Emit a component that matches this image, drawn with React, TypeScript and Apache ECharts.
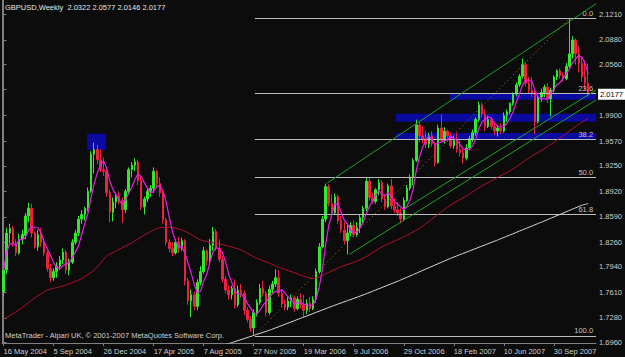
import React, { useEffect, useRef } from "react";
import * as echarts from "echarts";

const symbolName = "GBPUSD";
const periodName = "Weekly";
const copyright = "MetaTrader - Alpari UK, \u00a9 2001-2007 MetaQuotes Software Corp.";

const dateLabels = [
  "16 May 2004", "5 Sep 2004", "26 Dec 2004", "17 Apr 2005", "7 Aug 2005", "27 Nov 2005",
  "19 Mar 2006", "9 Jul 2006", "29 Oct 2006", "18 Feb 2007", "10 Jun 2007", "30 Sep 2007",
];
const labelEvery = 16;
const slotCount = 190;

const opens = [
  1.7620, 1.7900, 1.8380, 1.8440, 1.8250, 1.8120, 1.8300, 1.8350, 1.8600, 1.8700,
  1.8380, 1.8200, 1.8360, 1.8260, 1.8120, 1.7920, 1.7800, 1.7880, 1.7950, 1.8030,
  1.8130, 1.7900, 1.8000, 1.8260, 1.8380, 1.8560, 1.8620, 1.8700, 1.8920, 1.9400,
  1.9460, 1.9330, 1.9200, 1.9180, 1.8900, 1.8650, 1.8780, 1.8860, 1.8800, 1.8680,
  1.8920, 1.9200, 1.9260, 1.9300, 1.9060, 1.8720, 1.8820, 1.8920, 1.8960, 1.9180,
  1.9020, 1.8900, 1.8550, 1.8260, 1.8180, 1.8120, 1.8260, 1.8180, 1.8280, 1.7760,
  1.7500, 1.7580, 1.7430, 1.7740, 1.7880, 1.8150, 1.8020, 1.8220, 1.8400, 1.8180,
  1.8040, 1.7780, 1.7640, 1.7580, 1.7660, 1.7450, 1.7640, 1.7600, 1.7380, 1.7260,
  1.7150, 1.7350, 1.7480, 1.7660, 1.7600, 1.7350, 1.7650, 1.7720, 1.7800, 1.7600,
  1.7460, 1.7420, 1.7500, 1.7540, 1.7400, 1.7520, 1.7450, 1.7380, 1.7470, 1.7400,
  1.7520, 1.7880, 1.8200, 1.8560, 1.8980, 1.8760, 1.8640, 1.8850, 1.8540, 1.8420,
  1.8280, 1.8380, 1.8480, 1.8360, 1.8450, 1.8580, 1.8700, 1.9050, 1.8840, 1.8790,
  1.8940, 1.9030, 1.8820, 1.8720, 1.8990, 1.8730, 1.8680, 1.8640, 1.8560, 1.8800,
  1.8960, 1.9100, 1.9320, 1.9780, 1.9640, 1.9600, 1.9530, 1.9640, 1.9540, 1.9290,
  1.9740, 1.9580, 1.9700, 1.9640, 1.9510, 1.9590, 1.9460, 1.9420, 1.9350, 1.9480,
  1.9600, 1.9680, 1.9850, 2.0040, 1.9920, 1.9760, 1.9850, 1.9760, 1.9700, 1.9740,
  1.9700, 1.9900, 1.9950, 2.0060, 2.0180, 2.0300, 2.0410, 2.0560, 2.0320, 2.0230,
  2.0180, 1.9820, 2.0140, 2.0200, 2.0270, 2.0120, 2.0230, 2.0400, 2.0480, 2.0420,
  2.0380, 2.0540, 2.0700, 2.0880, 2.0700, 2.0580, 2.0400, 2.0322,
];
const highs = [
  1.7950, 1.8450, 1.8500, 1.8470, 1.8300, 1.8370, 1.8420, 1.8640, 1.8770, 1.8760,
  1.8400, 1.8420, 1.8440, 1.8320, 1.8150, 1.7980, 1.7920, 1.8000, 1.8080, 1.8180,
  1.8160, 1.8050, 1.8300, 1.8420, 1.8600, 1.8680, 1.8720, 1.8970, 1.9440, 1.9549,
  1.9520, 1.9460, 1.9360, 1.9230, 1.8940, 1.8840, 1.8900, 1.8920, 1.8840, 1.8950,
  1.9230, 1.9300, 1.9350, 1.9330, 1.9120, 1.8850, 1.8960, 1.9000, 1.9230, 1.9200,
  1.9100, 1.8930, 1.8580, 1.8300, 1.8260, 1.8300, 1.8330, 1.8320, 1.8300, 1.7800,
  1.7650, 1.7620, 1.7780, 1.7950, 1.8200, 1.8170, 1.8300, 1.8460, 1.8430, 1.8300,
  1.8080, 1.7820, 1.7700, 1.7700, 1.7780, 1.7700, 1.7720, 1.7640, 1.7420, 1.7300,
  1.7390, 1.7520, 1.7720, 1.7760, 1.7630, 1.7700, 1.7760, 1.7910, 1.7900, 1.7640,
  1.7520, 1.7560, 1.7580, 1.7570, 1.7560, 1.7600, 1.7580, 1.7520, 1.7550, 1.7560,
  1.7920, 1.8250, 1.8600, 1.9020, 1.9010, 1.8880, 1.8890, 1.8880, 1.8600, 1.8520,
  1.8500, 1.8520, 1.8540, 1.8520, 1.8620, 1.8730, 1.9100, 1.9090, 1.8900, 1.8960,
  1.9080, 1.9060, 1.8880, 1.9020, 1.9080, 1.8830, 1.8780, 1.8700, 1.8840, 1.9000,
  1.9140, 1.9350, 1.9848, 1.9830, 1.9760, 1.9700, 1.9680, 1.9700, 1.9560, 1.9780,
  1.9917, 1.9750, 1.9720, 1.9680, 1.9640, 1.9680, 1.9580, 1.9500, 1.9530, 1.9640,
  1.9720, 1.9880, 2.0080, 2.0070, 1.9980, 1.9900, 1.9880, 1.9820, 1.9780, 1.9800,
  1.9940, 1.9980, 2.0070, 2.0200, 2.0330, 2.0440, 2.0640, 2.0600, 2.0400, 2.0400,
  2.0220, 2.0170, 2.0250, 2.0300, 2.0320, 2.0260, 2.0420, 2.0500, 2.0510, 2.0460,
  2.0580, 2.1161, 2.0930, 2.0900, 2.0800, 2.0660, 2.0620, 2.0577,
];
const lows = [
  1.7560, 1.7850, 1.8250, 1.8200, 1.8080, 1.8100, 1.8230, 1.8300, 1.8520, 1.8320,
  1.8180, 1.8150, 1.8200, 1.8080, 1.7880, 1.7740, 1.7760, 1.7800, 1.7900, 1.7980,
  1.7850, 1.7830, 1.7980, 1.8230, 1.8340, 1.8500, 1.8540, 1.8660, 1.8900, 1.9150,
  1.9270, 1.9170, 1.9120, 1.8850, 1.8520, 1.8530, 1.8700, 1.8750, 1.8510, 1.8640,
  1.8880, 1.9100, 1.9180, 1.9000, 1.8680, 1.8620, 1.8780, 1.8850, 1.8900, 1.8960,
  1.8850, 1.8500, 1.8220, 1.8130, 1.8080, 1.8100, 1.8120, 1.8150, 1.7700, 1.7450,
  1.7290, 1.7380, 1.7380, 1.7700, 1.7850, 1.7960, 1.7990, 1.8150, 1.8150, 1.8000,
  1.7740, 1.7600, 1.7520, 1.7520, 1.7400, 1.7420, 1.7540, 1.7320, 1.7220, 1.7100,
  1.7046, 1.7300, 1.7450, 1.7560, 1.7300, 1.7320, 1.7600, 1.7680, 1.7550, 1.7420,
  1.7380, 1.7380, 1.7420, 1.7360, 1.7380, 1.7400, 1.7290, 1.7330, 1.7360, 1.7380,
  1.7480, 1.7850, 1.8180, 1.8520, 1.8720, 1.8580, 1.8620, 1.8500, 1.8380, 1.8240,
  1.8104, 1.8340, 1.8330, 1.8330, 1.8380, 1.8500, 1.8660, 1.8800, 1.8760, 1.8760,
  1.8870, 1.8780, 1.8680, 1.8700, 1.8690, 1.8640, 1.8600, 1.8505, 1.8540, 1.8780,
  1.8930, 1.9000, 1.9300, 1.9560, 1.9540, 1.9480, 1.9480, 1.9500, 1.9240, 1.9280,
  1.9550, 1.9540, 1.9560, 1.9480, 1.9470, 1.9420, 1.9370, 1.9280, 1.9320, 1.9450,
  1.9560, 1.9640, 1.9820, 1.9880, 1.9700, 1.9740, 1.9720, 1.9650, 1.9630, 1.9660,
  1.9680, 1.9820, 1.9920, 2.0030, 2.0150, 2.0270, 2.0380, 2.0280, 2.0180, 2.0140,
  1.9660, 1.9800, 2.0080, 2.0140, 2.0060, 1.9890, 2.0200, 2.0360, 2.0380, 2.0340,
  2.0360, 2.0520, 2.0640, 2.0560, 2.0460, 2.0340, 2.0230, 2.0146,
];
const closes = [
  1.7900, 1.8380, 1.8440, 1.8250, 1.8120, 1.8300, 1.8360, 1.8600, 1.8700, 1.8380,
  1.8200, 1.8360, 1.8260, 1.8120, 1.7920, 1.7800, 1.7880, 1.7950, 1.8030, 1.8130,
  1.7900, 1.8000, 1.8260, 1.8380, 1.8560, 1.8620, 1.8700, 1.8920, 1.9400, 1.9460,
  1.9330, 1.9200, 1.9180, 1.8900, 1.8650, 1.8780, 1.8860, 1.8800, 1.8680, 1.8920,
  1.9200, 1.9260, 1.9300, 1.9060, 1.8720, 1.8820, 1.8920, 1.8960, 1.9180, 1.9020,
  1.8900, 1.8550, 1.8260, 1.8180, 1.8120, 1.8260, 1.8180, 1.8280, 1.7760, 1.7500,
  1.7580, 1.7430, 1.7740, 1.7880, 1.8150, 1.8020, 1.8220, 1.8400, 1.8180, 1.8040,
  1.7780, 1.7640, 1.7580, 1.7660, 1.7450, 1.7640, 1.7600, 1.7380, 1.7260, 1.7150,
  1.7350, 1.7480, 1.7660, 1.7600, 1.7350, 1.7650, 1.7720, 1.7800, 1.7600, 1.7460,
  1.7420, 1.7500, 1.7540, 1.7400, 1.7520, 1.7450, 1.7380, 1.7470, 1.7400, 1.7520,
  1.7880, 1.8200, 1.8560, 1.8980, 1.8760, 1.8640, 1.8850, 1.8540, 1.8420, 1.8280,
  1.8380, 1.8480, 1.8360, 1.8450, 1.8580, 1.8700, 1.9050, 1.8840, 1.8790, 1.8940,
  1.9030, 1.8820, 1.8720, 1.8990, 1.8730, 1.8680, 1.8640, 1.8560, 1.8800, 1.8960,
  1.9100, 1.9320, 1.9780, 1.9640, 1.9600, 1.9530, 1.9640, 1.9540, 1.9290, 1.9740,
  1.9580, 1.9700, 1.9640, 1.9510, 1.9590, 1.9460, 1.9420, 1.9350, 1.9480, 1.9600,
  1.9680, 1.9850, 2.0040, 1.9920, 1.9760, 1.9850, 1.9760, 1.9700, 1.9740, 1.9700,
  1.9900, 1.9950, 2.0060, 2.0180, 2.0300, 2.0410, 2.0560, 2.0320, 2.0230, 2.0180,
  1.9820, 2.0140, 2.0200, 2.0270, 2.0120, 2.0230, 2.0400, 2.0480, 2.0420, 2.0380,
  2.0540, 2.0700, 2.0880, 2.0700, 2.0580, 2.0400, 2.0322, 2.0177,
];

const priceTicks = [1.696, 1.728, 1.761, 1.794, 1.826, 1.859, 1.892, 1.925, 1.957, 1.99, 2.024, 2.056, 2.088, 2.121];
const hiddenPriceLabels = [2.024];
const priceMin = 1.6955;
const priceMax = 2.1398;

const fibNames = ["0.0", "23.6", "38.2", "50.0", "61.8", "100.0"];
const fibPrices = [2.1161, 2.019, 1.9589, 1.9104, 1.8618, 1.7046];
const fibStartBar = 80.4;

const slowMA = [
  [0, 1.7265], [5, 1.7385], [10, 1.754], [14, 1.764], [20, 1.7706], [25, 1.779], [29, 1.79],
  [33, 1.808], [37, 1.817], [41, 1.825], [44, 1.833], [47, 1.8397], [50, 1.845], [53, 1.8455],
  [57, 1.842], [60, 1.836], [63, 1.829], [68, 1.8246], [72, 1.821], [76, 1.816], [81, 1.8052],
  [85, 1.799], [88, 1.7935], [92, 1.788], [96, 1.782], [99, 1.779], [101, 1.781], [104, 1.787],
  [108, 1.7943], [112, 1.8], [116, 1.8073], [121, 1.82], [127, 1.8311], [133, 1.844], [138, 1.859],
  [143, 1.8742], [148, 1.886], [153, 1.899], [158, 1.91], [163, 1.921], [168, 1.935], [174, 1.9498],
  [180, 1.9671], [184, 1.979], [187, 1.9865],
];
const longMA = [
  [70, 1.692], [85, 1.712], [95, 1.7275], [105, 1.743], [115, 1.7577], [127, 1.7771],
  [143, 1.8052], [158, 1.8289], [172, 1.852], [185, 1.874], [187, 1.876],
];

const channelUpper = [[103.5, 1.9027], [189.5, 2.135]];
const channelMid = [[127.7, 1.8678], [189.5, 2.0232]];
const channelLower = [[110.6, 1.8104], [189.5, 2.0102]];
const fibBaseLine = [[80, 1.7046], [181, 2.1161]];

const zoneRects = [
  [142.5, 2.0189, 189.5, 2.0106],
  [125.5, 1.9925, 189.5, 1.9821],
  [125.5, 1.9675, 189.5, 1.9593],
  [26.7, 1.9666, 32.8, 1.9455],
];

const fastPeriod = 5;

const FONT = "Liberation Sans, Arial, sans-serif";
const BG = "#0b0c0b";
const TEXT = "#cfcfcf";
const FRAME = "#808080";

export default function App() {
  const ref = useRef<HTMLDivElement>(null);

  useEffect(() => {
    if (!ref.current) return;
    const chart = echarts.init(ref.current, undefined, { renderer: "svg" });

    const last = closes.length - 1;
    const header = `${symbolName},${periodName}  ${opens[last].toFixed(4)} ${highs[last].toFixed(4)} ${lows[last].toFixed(4)} ${closes[last].toFixed(4)}`;
    const categories = Array.from({ length: slotCount }, (_, i) => String(i));
    const candles = opens.map((o, i) => [o, closes[i], lows[i], highs[i]]);
    const fastMA = closes.map((_, i) => {
      const from = Math.max(0, i - fastPeriod + 1);
      let s = 0;
      for (let k = from; k <= i; k++) s += closes[k];
      return +(s / (i - from + 1)).toFixed(4);
    });
    const showDate = (idx: number) => idx % labelEvery === 0 && idx / labelEvery < dateLabels.length;
    const labelValues = priceTicks.filter((v) => !hiddenPriceLabels.includes(v));

    const thinLine = (data: number[][], color: string, type: any = "solid", smooth: number | boolean = false) => ({
      type: "line",
      xAxisIndex: 1,
      yAxisIndex: 0,
      data,
      symbol: "none",
      smooth,
      silent: true,
      z: 5,
      lineStyle: { color, width: 1, type },
    });

    chart.setOption({
      animation: false,
      backgroundColor: BG,
      grid: { left: 2, right: 28, top: 0, bottom: 14 },
      xAxis: [
        {
          type: "category",
          data: categories,
          boundaryGap: true,
          axisLine: { show: true, lineStyle: { color: FRAME, width: 1 } },
          axisTick: {
            show: true,
            alignWithLabel: true,
            length: 3,
            interval: (idx: number) => showDate(idx),
            lineStyle: { color: FRAME },
          },
          axisLabel: {
            show: true,
            interval: (idx: number) => showDate(idx),
            formatter: (_v: string, idx: number) => (showDate(idx) ? dateLabels[idx / labelEvery] : ""),
            align: "left",
            margin: 4,
            color: TEXT,
            fontSize: 7.5,
            fontFamily: FONT,
          },
          splitLine: { show: false },
        },
        { type: "value", min: -0.5, max: slotCount - 0.5, show: false },
      ],
      yAxis: [
        {
          type: "value",
          position: "right",
          min: priceMin,
          max: priceMax,
          axisLine: { show: true, lineStyle: { color: FRAME, width: 1 } },
          axisTick: { show: true, length: 3, customValues: priceTicks, lineStyle: { color: FRAME } },
          axisLabel: {
            show: true,
            customValues: labelValues,
            formatter: (v: number) => v.toFixed(4),
            color: TEXT,
            fontSize: 7.5,
            fontFamily: FONT,
            margin: 3,
          },
          splitLine: { show: false },
        },
        {
          type: "value",
          position: "left",
          min: priceMin,
          max: priceMax,
          axisLine: { show: true, lineStyle: { color: FRAME, width: 1 } },
          axisTick: { show: false },
          axisLabel: { show: false },
          splitLine: { show: false },
        },
      ],
      graphic: [
        { type: "text", left: 5, top: 3, style: { text: header, fill: "#e6e6e6", font: `7.5px ${FONT}` } },
        { type: "text", left: 5, top: 331, style: { text: copyright, fill: TEXT, font: `7.5px ${FONT}` } },
      ],
      series: [
        {
          type: "line",
          xAxisIndex: 1,
          yAxisIndex: 0,
          data: [],
          silent: true,
          z: 1,
          markArea: {
            silent: true,
            itemStyle: { color: "#0a0aa0" },
            data: zoneRects.map((r) => [{ coord: [r[0], r[1]] }, { coord: [r[2], r[3]] }]),
          },
        },
        {
          type: "candlestick",
          xAxisIndex: 0,
          yAxisIndex: 0,
          data: candles,
          barWidth: 2,
          silent: true,
          z: 3,
          itemStyle: {
            color: "#30e830",
            color0: "#f0203f",
            borderColor: "#30e830",
            borderColor0: "#f0203f",
            borderWidth: 1,
          },
        },
        {
          type: "line",
          xAxisIndex: 1,
          yAxisIndex: 0,
          data: [],
          silent: true,
          z: 8,
          markLine: {
            silent: true,
            symbol: "none",
            lineStyle: { color: "rgba(0,0,0,0)", width: 1 },
            label: {
              show: true,
              position: "end",
              distance: 2,
              formatter: closes[last].toFixed(4),
              color: "#000000",
              backgroundColor: "#ffffff",
              padding: [2, 2, 1, 2],
              fontSize: 7.5,
              fontFamily: FONT,
            },
            data: [[{ coord: [fibStartBar, closes[last]] }, { coord: [slotCount - 0.5, closes[last]] }]],
          },
        },
        {
          type: "line",
          xAxisIndex: 1,
          yAxisIndex: 0,
          data: [],
          silent: true,
          z: 4,
          markLine: {
            silent: true,
            symbol: "none",
            lineStyle: { color: "#bdbdbd", width: 1, type: "solid" },
            label: {
              show: true,
              position: "insideEndTop",
              formatter: "{b}",
              color: "#c4c4c4",
              fontSize: 7.5,
              fontFamily: FONT,
              distance: [3, 1],
            },
            data: fibPrices.map((p, k) => [
              { coord: [fibStartBar, p], name: fibNames[k] },
              { coord: [slotCount - 0.5, p], name: fibNames[k] },
            ]),
          },
        },
        {
          type: "line",
          xAxisIndex: 0,
          yAxisIndex: 0,
          data: fastMA,
          symbol: "none",
          silent: true,
          z: 6,
          lineStyle: { color: "#e81ee8", width: 1.2 },
        },
        thinLine(slowMA, "#b3122e", "solid", 0.2),
        thinLine(longMA, "#d6d6d6", "solid", 0.1),
        thinLine(channelUpper, "#23a023"),
        thinLine(channelMid, "#23a023"),
        thinLine(channelLower, "#23a023"),
        thinLine(fibBaseLine, "#b8782a", [1, 3]),
      ],
    });

    return () => chart.dispose();
  }, []);

  return (
    <div
      ref={ref}
      style={{ position: "fixed", left: 0, top: 0, width: 625, height: 357, background: BG }}
    />
  );
}
